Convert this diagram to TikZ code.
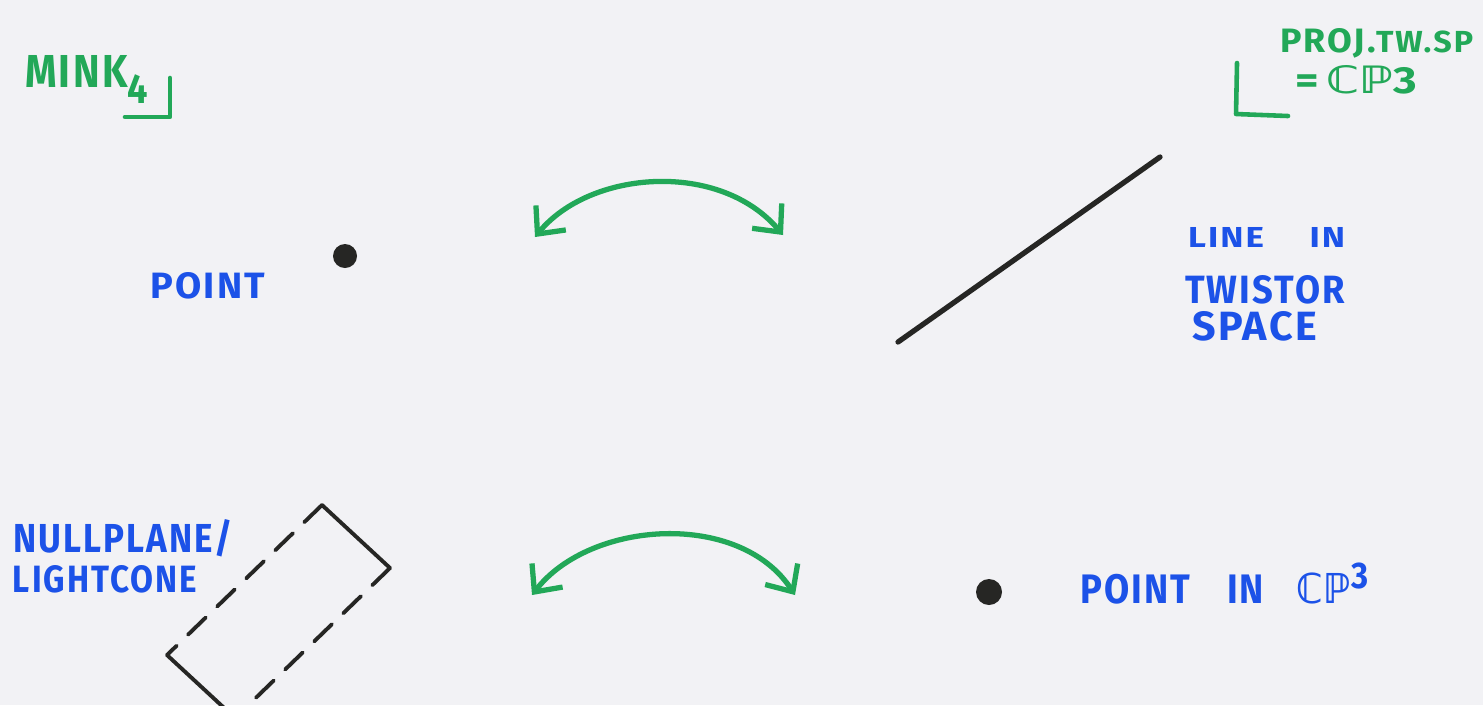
\documentclass[tikz,border=0pt]{standalone}
\usepackage{fontspec}
\usepackage{graphicx}
\newfontfamily\hand[LetterSpace=6]{Fira Sans}
\newfontfamily\dvfont{DejaVu Sans}
\usetikzlibrary{arrows.meta}
\definecolor{paper}{RGB}{242,242,245}
\definecolor{mgreen}{RGB}{34,168,88}
\definecolor{mblue}{RGB}{28,82,232}
\definecolor{ink}{RGB}{38,38,36}
\newcommand\fitw[3]{\resizebox{#1cm}{#2cm}{\raisebox{0pt}[\height][0pt]{\hand\bfseries #3}}}
\newcommand\bbCP{{\dvfont\bfseries ℂℙ}}
\begin{document}
\begin{tikzpicture}[x=0.01cm,y=-0.01cm,
  lbl/.style={anchor=base west,inner sep=0pt,outer sep=0pt},
  bluelbl/.style={lbl,text=mblue},
  greenlbl/.style={lbl,text=mgreen},
  dotnode/.style={circle,fill=ink,draw=none,inner sep=0pt,minimum size=0.24cm},
  swaparrow/.style={mgreen,line width=1.5pt,line cap=round,line join=round,
    {Straight Barb[length=6pt,width=11pt]}-{Straight Barb[length=6pt,width=11pt]}},
  bracketline/.style={mgreen,line width=1.3pt,line cap=round,line join=round},
  inkline/.style={ink,line width=1.5pt,line cap=round},
  solidside/.style={ink,line width=1.1pt,line cap=round},
  dashside/.style={ink,line width=1.1pt,line cap=round,dash pattern=on 7pt off 4.5pt}
]
\useasboundingbox (0,0) rectangle (1483,705);
\fill[paper] (0,0) rectangle (1483,705);
\clip (0,0) rectangle (1483,705);

% top-left label
\node[greenlbl] (mink) at (25,87) {\fitw{1.23}{0.32}{MINK\raisebox{-0.35em}{\small 4}}};
\coordinate (mkA) at (170,78);
\coordinate (mkB) at (170,117);
\coordinate (mkC) at (125,117);
\draw[bracketline] (mkA) -- (mkB) -- (mkC);

% top-right label
\node[greenlbl] (proj) at (1280,52) {\fitw{1.93}{0.24}{PROJ.{\small TW.SP}}};
\node[greenlbl] (cp3) at (1295,93) {\fitw{1.22}{0.28}{=\,\bbCP 3}};
\coordinate (prA) at (1237,63);
\coordinate (prB) at (1236,114);
\coordinate (prC) at (1288,116);
\draw[bracketline] (prA) -- (prB) -- (prC);

% top row
\node[dotnode] (dotA) at (345,256) {};
\node[bluelbl] (pointA) at (150,298) {\fitw{1.15}{0.26}{POINT}};
\coordinate (arA1) at (535,237);
\coordinate (arA2) at (783,235);
\draw[swaparrow] (arA1) .. controls (590,170) and (720,160) .. (arA2);
\coordinate (lnA) at (898,342);
\coordinate (lnB) at (1160,157);
\draw[inkline] (lnA) -- (lnB);
\node[bluelbl] (line1) at (1188,247) {\fitw{1.57}{0.20}{LINE\hspace{1.3em}IN}};
\node[bluelbl] (line2) at (1185,303) {\fitw{1.60}{0.28}{TWISTOR}};
\node[bluelbl] (line3) at (1192,340) {\fitw{1.25}{0.29}{SPACE}};

% bottom row
\node[bluelbl] (null1) at (13,552) {\fitw{2.20}{0.33}{NULLPLANE/}};
\node[bluelbl] (null2) at (13,592) {\fitw{1.84}{0.27}{LIGHTCONE}};
\coordinate (rT) at (322,505);
\coordinate (rR) at (390,568);
\coordinate (rB) at (235,718);
\coordinate (rL) at (167,655);
\draw[solidside] (rT) -- (rR);
\draw[solidside] (rL) -- (rB);
\draw[dashside] (rT) -- (rL);
\draw[dashside] (rR) -- (rB);
\coordinate (arB1) at (532,595);
\coordinate (arB2) at (795,595);
\draw[swaparrow] (arB1) .. controls (590,520) and (740,510) .. (arB2);
\node[dotnode,minimum size=0.26cm] (dotB) at (989,592) {};
\node[bluelbl] (pointB) at (1080,603) {\fitw{2.88}{0.40}{POINT\hspace{1em}IN\hspace{0.9em}\bbCP\raisebox{0.35em}{\small 3}}};
\end{tikzpicture}
\end{document}
